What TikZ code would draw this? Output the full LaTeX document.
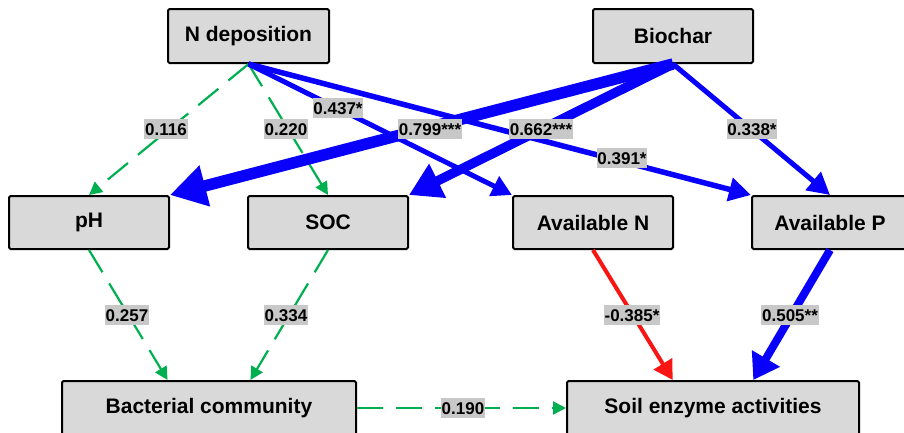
\documentclass[tikz,border=0pt]{standalone}
\usepackage{fontspec}
\setmainfont{Liberation Sans}
\usetikzlibrary{arrows.meta,calc}
\definecolor{bxfill}{RGB}{217,217,217}
\definecolor{lblfill}{RGB}{200,200,200}
\definecolor{pblue}{RGB}{8,0,250}
\definecolor{pgreen}{RGB}{0,176,80}
\definecolor{pred}{RGB}{250,20,20}
\tikzset{
  varbox/.style={draw=black, line width=2pt, fill=bxfill, rounded corners=1.5pt,
    minimum height=54pt, inner sep=0pt, font=\fontsize{21}{21}\selectfont\bfseries},
  coef/.style={fill=lblfill, inner xsep=0.8pt, inner ysep=3.8pt, text height=12.2pt, text depth=0pt,
    font=\fontsize{17}{17}\selectfont\bfseries},
  nsarrow/.style={draw=pgreen, line width=2.2pt, dash pattern=on 26pt off 13pt,
    -{Triangle[length=13pt,width=13pt]}},
  posarrow/.style={draw=pblue, line width=#1},
  negarrow/.style={draw=pred, line width=4pt, -{Triangle[length=19pt,width=21pt]}},
}
\begin{document}
\begin{tikzpicture}[x=1pt,y=-1pt]
\useasboundingbox (0,0) rectangle (904,432);
% nodes
\node[varbox, minimum width=161pt] (ndep) at (248.5,36) {N deposition};
\node[varbox, minimum width=160pt] (bio) at (673,36) {Biochar};
\node[varbox, minimum width=160pt, minimum height=53pt] (ph) at (89,222.5) {pH};
\node[varbox, minimum width=160pt, minimum height=53pt] (soc) at (328,222.5) {SOC};
\node[varbox, minimum width=160pt, minimum height=53pt] (avn) at (593,222.5) {Available N};
\node[varbox, minimum width=156pt, minimum height=53pt] (avp) at (830,222.5) {Available P};
\node[varbox, minimum width=294pt] (bact) at (209,408) {Bacterial community};
\node[varbox, minimum width=292pt] (enz) at (713,408) {Soil enzyme activities};
% anchor points on bottom boxes
\coordinate (bactA) at ($(bact.north west)!0.36!(bact.north east)$);
\coordinate (bactB) at ($(bact.north west)!0.64!(bact.north east)$);
\coordinate (enzA) at ($(enz.north west)!0.363!(enz.north east)$);
\coordinate (enzB) at ($(enz.north west)!0.637!(enz.north east)$);
% connectors
\draw[nsarrow] (ndep.south) -- (ph.north);
\draw[nsarrow] (ndep.south) -- (soc.north);
\draw[posarrow=5pt, -{Triangle[length=20pt,width=21pt]}] (ndep.south) -- (avn.north west);
\draw[posarrow=5.5pt, -{Triangle[length=22pt,width=23pt]}] (ndep.south) -- (avp.north west);
\draw[posarrow=11.5pt, -{Triangle[length=36pt,width=40pt]}] (bio.south) -- (ph.north east);
\draw[posarrow=9.5pt, -{Triangle[length=32pt,width=36pt]}] (bio.south) -- (soc.north east);
\draw[posarrow=5pt, -{Triangle[length=22pt,width=23pt]}] (bio.south) -- (avp.north);
\draw[nsarrow] (ph.south) -- (bactA);
\draw[nsarrow] (soc.south) -- (bactB);
\draw[negarrow] (avn.south) -- (enzA);
\draw[posarrow=8pt, -{Triangle[length=25pt,width=31pt]}] (avp.south) -- (enzB);
\draw[nsarrow] (bact.east) -- (enz.west);
% coefficient labels
\node[coef] (l1) at (166,129) {0.116};
\node[coef] (l2) at (286,129) {0.220};
\node[coef] (l3) at (338,108) {0.437*};
\node[coef] (l4) at (430,129) {0.799***};
\node[coef] (l5) at (541,129) {0.662***};
\node[coef] (l6) at (752,129) {0.338*};
\node[coef] (l7) at (622,158) {0.391*};
\node[coef] (l8) at (127,315) {0.257};
\node[coef] (l9) at (286,315) {0.334};
\node[coef] (l10) at (632,315) {-0.385*};
\node[coef] (l11) at (790,315) {0.505**};
\node[coef] (l12) at (463,408) {0.190};
\end{tikzpicture}
\end{document}
